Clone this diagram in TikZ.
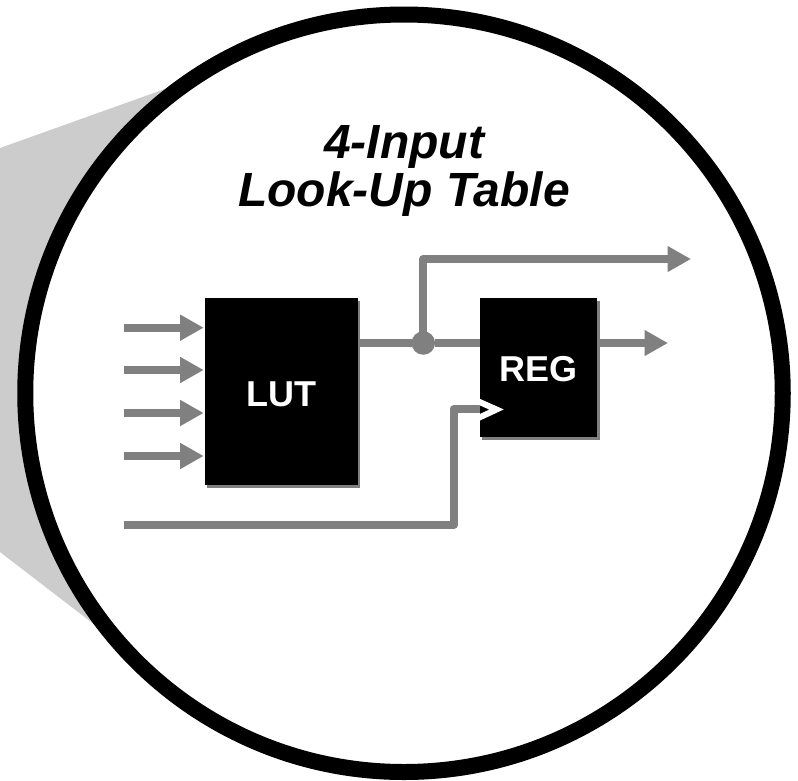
\documentclass[tikz,border=0pt]{standalone}
\usepackage{fontspec}
\setmainfont{Liberation Sans}
\usetikzlibrary{arrows.meta,shadows,calc}
\definecolor{wire}{HTML}{808080}
\definecolor{wedge}{HTML}{CCCCCC}
\tikzset{
  wireline/.style={draw=wire,line width=8.3pt,line join=round},
  wirearrow/.style={wireline,-{Triangle[length=23.5pt,width=24.5pt]}},
  blockbox/.style={rectangle,fill=black,draw=none,inner sep=0pt,outer sep=0pt,text=white,
    font=\fontsize{36}{36}\selectfont\bfseries,
    drop shadow={shadow xshift=2.5pt,shadow yshift=-2.5pt,fill=wire,opacity=1}},
  ringshape/.style={circle,draw=black,fill=white,line width=16pt,inner sep=0pt,outer sep=0pt,minimum size=757.5pt},
  titletext/.style={align=center,inner sep=0pt,font=\fontsize{48}{48}\selectfont\bfseries\itshape},
  junction/.style={circle,fill=wire,inner sep=0pt,outer sep=0pt,minimum size=23.5pt},
  clockmark/.style={draw=white,line width=6pt,line join=miter}
}
\begin{document}
\begin{tikzpicture}[x=1pt,y=-1pt]
\useasboundingbox (0,0) rectangle (798,780);
\fill[white] (0,0) rectangle (798,780);
\fill[wedge] (0,148) -- (165,89) -- (404,393) -- (95,625) -- (0,552) -- cycle;
\node[ringshape] (ring) at (404,393.25) {};
\node[titletext] (title) at (404,170.5) {4-Input\\Look-Up Table};
\node[blockbox,minimum width=153pt,minimum height=187pt,text height=29.6pt,text depth=0pt] (lut) at (281.2,391.5) {LUT};
\node[blockbox,minimum width=117.5pt,minimum height=138.8pt,text height=28.2pt,text depth=0pt] (reg) at (538.4,367.7) {REG};
\coordinate (in1) at (124,327.7);
\coordinate (in2) at (124,370);
\coordinate (in3) at (124,413);
\coordinate (in4) at (124,456);
\coordinate (clkin) at (124,525);
\coordinate (topout) at (691,259);
\coordinate (regout) at (668,343);
\coordinate (clkturn) at (453.5,409);
\foreach \n in {in1,in2,in3,in4}
  \draw[wirearrow,shorten >=1pt] (\n) -- (lut.west |- \n);
\node[junction] (dot) at (423.3,343) {};
\draw[wireline] (lut.east |- dot) -- (dot) -- (reg.west |- dot);
\draw[wirearrow] (dot.center) -- (dot.center |- topout) -- (topout);
\draw[wirearrow] (reg.east |- regout) -- (regout);
\draw[draw=wire,line width=8pt,line join=round] (clkin) -- (clkturn |- clkin) -- (clkturn) -- (reg.west |- clkturn);
\coordinate (clka) at (474,399.5);
\coordinate (clkb) at (496.5,409.5);
\coordinate (clkc) at (474,420);
\begin{scope}
\clip (reg.north west) rectangle (reg.south east);
\draw[clockmark] (clka) -- (clkb) -- (clkc);
\end{scope}
\end{tikzpicture}
\end{document}
